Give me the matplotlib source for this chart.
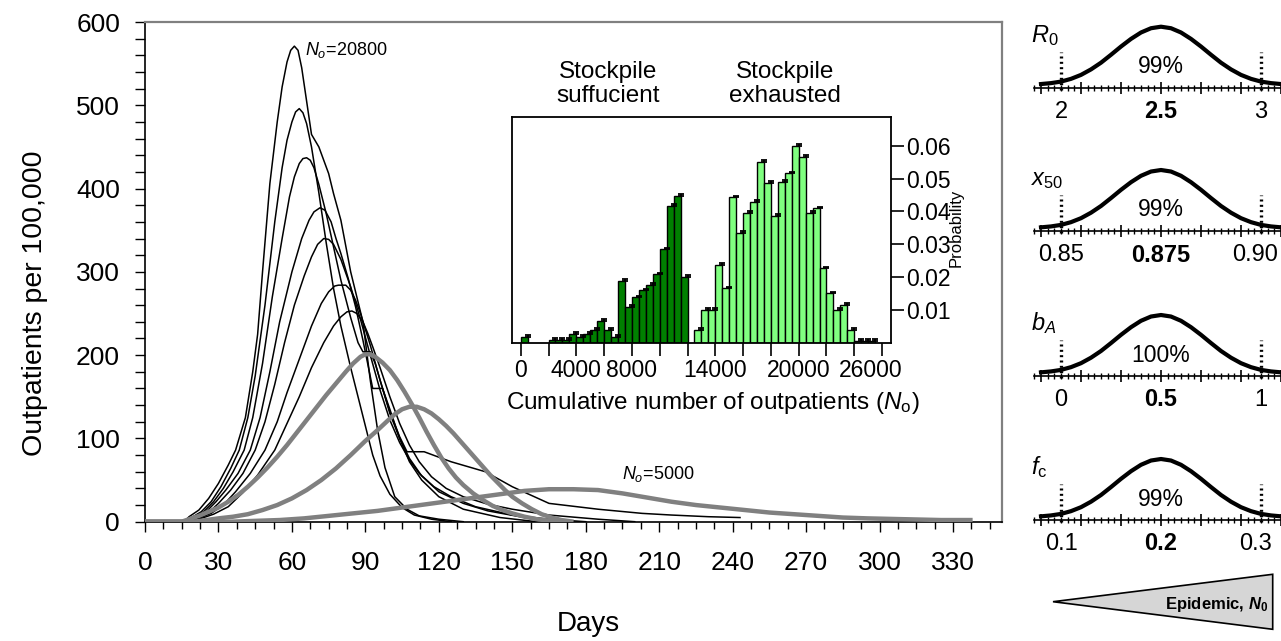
import matplotlib
matplotlib.use('Agg')
import matplotlib.pyplot as plt
from matplotlib.ticker import MultipleLocator, FixedLocator, AutoMinorLocator
from matplotlib.patches import Polygon
from matplotlib.transforms import ScaledTranslation

plt.rcParams['font.family'] = ['Liberation Sans', 'DejaVu Sans']
plt.rcParams['mathtext.fontset'] = 'custom'
plt.rcParams['mathtext.rm'] = 'Liberation Sans'
plt.rcParams['mathtext.it'] = 'Liberation Sans:italic'
plt.rcParams['mathtext.bf'] = 'Liberation Sans:bold'
plt.rcParams['mathtext.bfit'] = 'Liberation Sans:bold:italic'

# ---------------- data: epidemic curves (day, outpatients per 100,000) ----------------
c1_days = [0, 16, 18, 22, 26, 30, 34, 37, 41, 44, 46, 48, 51, 54, 56, 58, 59.5, 61, 62.5, 64, 66, 68, 71, 75, 77, 80, 84, 89, 92, 95, 98, 102, 107, 112, 120, 130]
c1_vals = [0, 0, 6, 14, 28, 46, 68, 86, 125, 180, 225, 300, 406, 480, 522, 552, 566, 571, 566, 545, 505, 465, 450, 418, 394, 362, 300, 240, 170, 110, 65, 30, 15, 7, 3, 0]

c2_days = [0, 17, 19, 23, 27, 31, 35, 38.5, 42, 45, 49, 53, 56, 58, 60, 61.5, 63, 64.5, 66, 68, 71, 74, 77, 80, 84, 87, 90, 93, 96, 100, 105, 110, 117, 125]
c2_vals = [0, 0, 5, 12, 24, 42, 64, 86, 125, 175, 260, 360, 425, 458, 480, 492, 496, 491, 478, 450, 395, 335, 280, 235, 185, 150, 115, 80, 55, 33, 17, 8, 3, 0]

c3_days = [0, 18, 20, 24, 28, 32, 36, 40.5, 44, 48, 52, 56, 59, 61, 63, 64.5, 66, 67.5, 69, 71, 74, 77, 80, 84, 87, 89, 92, 94, 97, 100, 104, 108, 113, 120, 130, 145, 160]
c3_vals = [0, 0, 5, 12, 24, 40, 60, 86, 125, 190, 270, 340, 390, 414, 430, 436, 437, 434, 425, 405, 370, 330, 290, 245, 215, 204, 204, 190, 160, 135, 100, 72, 50, 30, 15, 5, 0]

c4_days = [0, 18, 20, 25, 29, 33, 38, 43, 47, 51, 55, 60, 64, 67, 69, 71.5, 73.5, 76, 78, 80, 83, 86, 89, 93, 97, 100, 104, 108, 113, 120, 130, 140, 155, 170]
c4_vals = [0, 0, 4, 12, 24, 38, 58, 86, 125, 180, 240, 300, 340, 362, 372, 377, 374, 360, 340, 322, 292, 258, 218, 160, 160, 130, 100, 76, 55, 36, 22, 13, 5, 0]

c5_days = [0, 19, 21, 26, 30, 35, 40, 45, 49, 53, 57, 61, 65, 68, 70.5, 73, 75, 77, 80, 84, 88, 92, 96, 100, 104, 108, 112, 118, 125, 135, 150, 165, 180]
c5_vals = [0, 0, 4, 11, 22, 38, 58, 86, 120, 165, 215, 260, 295, 318, 333, 340, 339, 333, 315, 282, 243, 200, 158, 122, 95, 74, 58, 42, 30, 18, 8, 3, 0]

c6_days = [0, 19, 21, 27, 32, 37, 43, 49, 54, 58, 63, 68, 72, 75, 77.5, 79, 82, 84, 86, 88, 92, 96, 100, 104, 107, 114, 125, 139, 150, 165, 185, 203, 215, 230, 243]
c6_vals = [0, 0, 3, 10, 20, 36, 58, 86, 120, 155, 195, 235, 262, 276, 283, 284, 284, 278, 266, 250, 212, 170, 132, 102, 84, 84, 72, 60, 42, 22, 15, 10, 8, 6, 5]

c7_days = [0, 20, 22, 28, 34, 40, 46, 53, 58, 63, 68, 73, 77, 80, 82.5, 84.5, 86.5, 89, 91, 93, 96, 100, 104, 108, 112, 117, 123, 130, 140, 150, 165, 185, 200]
c7_vals = [0, 0, 3, 9, 18, 35, 56, 86, 118, 150, 185, 215, 235, 246, 252, 253, 250, 240, 226, 210, 185, 150, 118, 92, 72, 54, 40, 30, 21, 15, 8, 3, 0]

g1_days = [0, 15, 18, 22, 26, 30, 34, 38, 42, 46, 50, 54, 58, 62, 66, 70, 74, 78, 82, 85, 88, 90, 92, 94, 97, 100, 103, 106,
           109, 112, 115, 118, 121, 124, 127, 130, 134, 138, 142, 146, 150, 155, 160, 166, 172]
g1_vals = [0, 0, 3, 7, 12, 17, 24, 32, 42, 53, 65, 78, 92, 107, 122, 137, 152, 166, 180, 190, 198, 201, 201, 198, 191, 182, 170, 156,
           141, 125, 108, 92, 77, 64, 53, 44, 34, 26, 19, 14, 10, 6, 3, 1, 0]

g2_days = [0, 20, 25, 30, 36, 42, 48, 54, 60, 66, 72, 78, 84, 90, 95, 99, 102, 105, 108, 111, 114, 117, 120, 123, 126, 129,
           132, 135, 138, 141, 144, 147, 150, 154, 158, 162, 166, 170, 175]
g2_vals = [0, 0, 2, 4, 6, 9, 14, 20, 28, 38, 50, 64, 80, 97, 110, 121, 129, 135, 138, 138, 135, 130, 123, 115, 106, 96,
           86, 76, 66, 56, 47, 38, 30, 22, 15, 9, 5, 2, 0]

g3_days = [0, 35, 45, 55, 65, 75, 85, 95, 105, 115, 125, 135, 145, 155, 165, 175, 185, 195, 205, 215, 225, 235, 245, 255,
           265, 275, 285, 295, 310, 325, 338]
g3_vals = [0, 0, 1, 2, 4, 7, 10, 13, 17, 21, 25, 29, 33, 37, 39, 39, 38, 34, 29, 24, 20, 17, 14, 11,
           9, 7, 5, 4, 3, 2, 2]

black_curves = [(c1_days, c1_vals), (c2_days, c2_vals), (c3_days, c3_vals), (c4_days, c4_vals),
                (c5_days, c5_vals), (c6_days, c6_vals), (c7_days, c7_vals)]
gray_curves = [(g1_days, g1_vals), (g2_days, g2_vals), (g3_days, g3_vals)]

day_ticks = list(range(0, 331, 30))

# ---------------- data: histogram of cumulative outpatients ----------------
bin_width = 500
suff_edges = [0, 2000, 2500, 3000, 3500, 4000, 4500, 5000, 5500, 6000, 6500, 7000, 7500, 8000, 8500,
              9000, 9500, 10000, 10500, 11000, 11500]
suff_probs = [0.0018, 0.0008, 0.0008, 0.0008, 0.0028, 0.0018, 0.0028, 0.0039, 0.0066, 0.0039, 0.0018,
              0.0189, 0.0110, 0.0138, 0.0160, 0.0176, 0.0209, 0.0285, 0.0418, 0.0448, 0.0200]
exh_edges = [12500, 13000, 13500, 14000, 14500, 15000, 15500, 16000, 16500, 17000, 17500, 18000,
             18500, 19000, 19500, 20000, 20500, 21000, 21500, 22000, 22500, 23000, 23500,
             24000, 24500, 25000]
exh_probs = [0.0039, 0.0100, 0.0100, 0.0237, 0.0166, 0.0443, 0.0335, 0.0396, 0.0430, 0.0552, 0.0488,
             0.0386, 0.0490, 0.0516, 0.0600, 0.0567, 0.0396, 0.0410, 0.0227, 0.0150, 0.0100, 0.0115,
             0.0039, 0.0006, 0.0006, 0.0006]
inset_xticks = list(range(0, 26001, 2000))
inset_xlabels = ['0', '4000', '8000', '14000', '20000', '26000']
inset_yticks = [0.01, 0.02, 0.03, 0.04, 0.05, 0.06]

# ---------------- data: parameter distributions ----------------
u_grid = [-1.2, -1.1, -1.0, -0.9, -0.8, -0.7, -0.6, -0.5, -0.4, -0.3, -0.2, -0.1, 0.0,
          0.1, 0.2, 0.3, 0.4, 0.5, 0.6, 0.7, 0.8, 0.9, 1.0, 1.1, 1.2]
bell = [0.06, 0.075, 0.10, 0.145, 0.21, 0.30, 0.41, 0.54, 0.675, 0.80, 0.905, 0.975, 1.0,
        0.975, 0.905, 0.80, 0.675, 0.54, 0.41, 0.30, 0.21, 0.145, 0.10, 0.075, 0.06]
param_names = [r'$R_0$', r'$x_{50}$', r'$b_A$', r'$f_\mathrm{c}$']
param_centers = [2.5, 0.875, 0.5, 0.2]
param_half = [0.5, 0.025, 0.5, 0.1]
param_labels = [['2', '2.5', '3'], ['0.85', '0.875', '0.90'], ['0', '0.5', '1'], ['0.1', '0.2', '0.3']]
param_pct = ['99%', '99%', '100%', '99%']

# ---------------- figure ----------------
W, H = 1281, 641
fig = plt.figure(figsize=(W / 100, H / 100), dpi=100)


def rect(x0, y0, x1, y1):
    """pixel box (left, top, right, bottom) -> figure fraction rect"""
    return [x0 / W, 1 - y1 / H, (x1 - x0) / W, (y1 - y0) / H]


def ftext(px, py, s, **kw):
    return fig.text(px / W, 1 - py / H, s, **kw)


GRAY = '#808080'

# main axes
ax = fig.add_axes(rect(145, 22, 1002, 521.7))
for d, v in black_curves:
    ax.plot(d, v, color='black', lw=1.1, zorder=2, solid_joinstyle='round')
for d, v in gray_curves:
    ax.plot(d, v, color=GRAY, lw=3.2, zorder=3, solid_joinstyle='round', solid_capstyle='butt')
ax.set_xlim(0, 350)
ax.set_ylim(0, 600)
ax.xaxis.set_major_locator(FixedLocator(day_ticks))
ax.xaxis.set_minor_locator(MultipleLocator(7.5))
ax.yaxis.set_major_locator(MultipleLocator(100))
ax.yaxis.set_minor_locator(MultipleLocator(20))
ax.tick_params(axis='x', which='major', direction='out', length=7, width=1, labelsize=19, pad=14)
ax.tick_params(axis='x', which='minor', direction='out', length=5, width=1)
ax.tick_params(axis='y', which='both', direction='out', length=7, width=1, labelsize=19, pad=11)
for s in ['left', 'bottom']:
    ax.spines[s].set_linewidth(1.2)
for s in ['top', 'right']:
    ax.spines[s].set_color(GRAY)
    ax.spines[s].set_linewidth(1.6)
ax.text(65.5, 566, r'$N_o$=20800', fontsize=13, ha='left', va='center')
ax.text(195, 57, r'$N_o$=5000', fontsize=13, ha='left', va='center')

ftext(35, 303, 'Outpatients per 100,000', rotation=90, fontsize=20.5, ha='center', va='center')
ftext(588, 624, 'Days', fontsize=20, ha='center', va='center')

# inset histogram
axi = fig.add_axes(rect(511.7, 116.7, 890.7, 342.7))
axi.bar(suff_edges, suff_probs, width=bin_width, align='edge', color='#008000',
        edgecolor='black', linewidth=1.0, zorder=2)
axi.bar(exh_edges, exh_probs, width=bin_width, align='edge', color='#80ff80',
        edgecolor='black', linewidth=1.0, zorder=2)
caps_x = [e + bin_width for e in suff_edges + exh_edges]
caps_y = suff_probs + exh_probs
axi.errorbar(caps_x, caps_y, yerr=[[0] * len(caps_y), [0.0005] * len(caps_y)], fmt='none',
             ecolor='black', elinewidth=1.3, capsize=2.5, capthick=1.3, zorder=3)
axi.set_xlim(-650, 26620)
axi.set_ylim(0, 0.0689)
axi.xaxis.set_major_locator(FixedLocator(inset_xticks))
axi.set_xticklabels([str(t) if str(t) in inset_xlabels else '' for t in inset_xticks])
axi.yaxis.tick_right()
axi.yaxis.set_major_locator(FixedLocator(inset_yticks))
axi.set_yticklabels(['%.2f' % t for t in inset_yticks])
axi.tick_params(axis='x', direction='out', length=9, width=1.2, labelsize=16.5, pad=3)
axi.tick_params(axis='y', direction='out', length=9, width=1.2, labelsize=16.5, pad=2)
last_lbl = axi.get_xticklabels()[-1]
last_lbl.set_transform(last_lbl.get_transform() + ScaledTranslation(-0.11, 0, fig.dpi_scale_trans))
for s in axi.spines.values():
    s.set_linewidth(1.3)
ftext(713, 403, r'Cumulative number of outpatients ($N_\mathrm{o}$)', fontsize=17.5, ha='center', va='center')
ftext(608, 84, 'Stockpile\nsuffucient', fontsize=17.5, ha='center', va='center', linespacing=1.1)
ftext(785, 84, 'Stockpile\nexhausted', fontsize=17.5, ha='center', va='center', linespacing=1.1)
ftext(956, 228, 'Probability', rotation=90, fontsize=12, ha='center', va='center')

# parameter panels
baselines = [87.7, 231, 376, 520]
for k in range(4):
    b = baselines[k]
    c, h = param_centers[k], param_half[k]
    axp = fig.add_axes(rect(1034, b - 72, 1281, b))
    axp.set_xlim(c - 1.27 * h, c + 1.2 * h)
    axp.set_ylim(0, 72 / 61)
    xs = [c + u * h for u in u_grid]
    axp.plot(xs, bell, color='black', lw=3.0, clip_on=False, zorder=3)
    for u in (-1, 1):
        axp.plot([c + u * h, c + u * h], [-0.04, 0.585], color='black', lw=2.4,
                 linestyle=(0, (0.6, 1.0)), clip_on=False, zorder=4)
    for s in ['top', 'left', 'right']:
        axp.spines[s].set_visible(False)
    axp.spines['bottom'].set_linewidth(1.2)
    axp.patch.set_visible(False)
    axp.yaxis.set_visible(False)
    axp.xaxis.set_major_locator(FixedLocator([c + u * h for u in (-1.2, -0.8, -0.4, 0, 0.4, 0.8, 1.2)]))
    axp.xaxis.set_minor_locator(AutoMinorLocator(6))
    axp.tick_params(axis='x', which='major', direction='inout', length=8, width=1.2, labelbottom=False)
    axp.tick_params(axis='x', which='minor', direction='inout', length=4, width=1.0)
    for u, lab in zip((-1, 0, 1), param_labels[k]):
        dx = -6 if (u == 1 and len(lab) > 2) else 0
        axp.annotate(lab, xy=(c + u * h, 0), xycoords=('data', 'axes fraction'),
                     xytext=(dx * 0.72, -24 * 0.72), textcoords='offset points', ha='center', va='center',
                     fontsize=17, fontweight='bold' if u == 0 else 'normal', annotation_clip=False)
    axp.text(c, 21 / 61, param_pct[k], fontsize=16.5, ha='center', va='center')
    ftext(1031, b - 46, param_names[k], fontsize=17, ha='left', va='baseline')

# epidemic size wedge
wedge = Polygon([[1053 / W, 1 - 601.7 / H], [1272.7 / W, 1 - 574.3 / H], [1272.7 / W, 1 - 629.3 / H]],
                closed=True, transform=fig.transFigure, facecolor='#d6d6d6', edgecolor='black', lw=1.2)
fig.patches.append(wedge)
ftext(1268, 604, r'Epidemic, $\mathbfit{N}_\mathbf{0}$', fontsize=12, fontweight='bold', ha='right', va='center')

fig.savefig('out.png', dpi=100)
